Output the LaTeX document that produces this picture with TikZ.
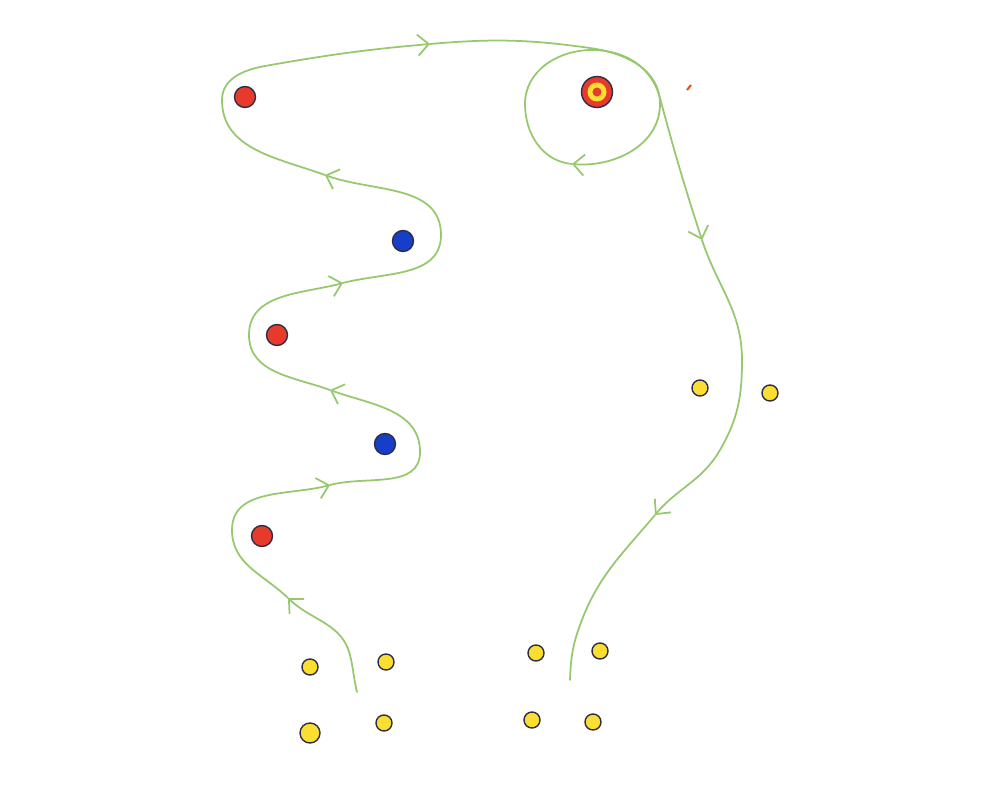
\documentclass[tikz,border=0pt]{standalone}
\usetikzlibrary{arrows.meta, positioning}
\definecolor{trailgreen}{RGB}{150,200,110}
\definecolor{beadred}{RGB}{232,58,44}
\definecolor{beadblue}{RGB}{22,62,200}
\definecolor{beadyellow}{RGB}{250,222,50}
\definecolor{rimgray}{RGB}{45,45,70}

\begin{document}
\begin{tikzpicture}[x=0.1mm, y=0.1mm,
			trail/.style = {
				draw=trailgreen, line width=0.5pt, line cap=round
			},
			barb/.style = {
				trail, -{Straight Barb[length=1.1mm, width=2.1mm]}
			},
			bead/.style = {
				circle, inner sep=0pt, draw=rimgray, line width=0.4pt
			},
			redbead/.style = {bead, fill=beadred, minimum size=2.1mm},
			bluebead/.style = {bead, fill=beadblue, minimum size=2.1mm},
			yellowbead/.style = {bead, fill=beadyellow, minimum size=1.6mm}]
			\useasboundingbox (0,0) rectangle (1000,804);
			% beads along the trail
			\node (r1) [redbead] at (245,707) {};
			\node (b1) [bluebead] at (403,563) {};
			\node (r2) [redbead] at (277,469) {};
			\node (b2) [bluebead] at (385,360) {};
			\node (r3) [redbead] at (262,268) {};
			\node (core) [bead, fill=beadred, minimum size=3.1mm] at (597,712) {};
			\node (coreRing) [circle, inner sep=0pt, fill=beadyellow, minimum size=1.9mm] at (core) {};
			\node (coreDot) [circle, inner sep=0pt, fill=beadred, minimum size=0.9mm] at (core) {};
			\draw [beadred!70!orange, line width=0.6pt] (687,714) -- (691,719);
			% yellow beads
			\node (y1) [yellowbead] at (700,416) {};
			\node (y2) [yellowbead] at (770,411) {};
			\node (y3) [yellowbead] at (310,137) {};
			\node (y4) [yellowbead] at (386,142) {};
			\node (y5) [yellowbead, minimum size=2mm] at (310,71) {};
			\node (y6) [yellowbead] at (384,81) {};
			\node (y7) [yellowbead] at (536,151) {};
			\node (y8) [yellowbead] at (600,153) {};
			\node (y9) [yellowbead] at (532,84) {};
			\node (y10) [yellowbead] at (593,82) {};
			% way points of the trail
			\coordinate (s) at (357,112);
			\coordinate (w1) at (350,149);
			\coordinate (a1) at (288,206);
			\coordinate (w2) at (232,274);
			\coordinate (a2) at (330,319);
			\coordinate (w3) at (420,352);
			\coordinate (a3) at (330,414);
			\coordinate (w4) at (249,469);
			\coordinate (a4) at (343,521);
			\coordinate (w5) at (441,569);
			\coordinate (a5) at (325,629);
			\coordinate (w6) at (222,704);
			\coordinate (w7) at (265,738);
			\coordinate (a6) at (430,760);
			\coordinate (w8) at (590,756);
			\coordinate (w9) at (660,700);
			\coordinate (a7) at (572,640);
			\coordinate (w10) at (525,700);
			\coordinate (w11) at (592,754);
			\coordinate (w12) at (660,706);
			\coordinate (a8) at (702,564);
			\coordinate (w13) at (742,444);
			\coordinate (w14) at (720,354);
			\coordinate (a9) at (655,289);
			\coordinate (w15) at (580,179);
			\coordinate (e) at (570,124);
			% the trail
			\draw [barb] (s) to[out=104, in=-76] (w1) to[out=104, in=-44] (a1);
			\draw [barb] (a1) to[out=136, in=-90] (w2) to[out=90, in=195] (a2);
			\draw [barb] (a2) to[out=15, in=-90] (w3) to[out=90, in=-20] (a3);
			\draw [barb] (a3) to[out=160, in=-90] (w4) to[out=90, in=195] (a4);
			\draw [barb] (a4) to[out=15, in=-90] (w5) to[out=90, in=-20] (a5);
			\draw [barb] (a5) to[out=160, in=-90] (w6) to[out=90, in=190] (w7)
				to[out=10, in=185] (a6);
			\draw [barb] (a6) to[out=5, in=172] (w8) to[out=-8, in=90] (w9)
				to[out=-90, in=-5] (a7);
			\draw [barb] (a7) to[out=175, in=-90] (w10) to[out=90, in=180] (w11)
				to[out=0, in=105] (w12) to[out=-75, in=108] (a8);
			\draw [barb] (a8) to[out=-72, in=90] (w13) to[out=-90, in=60] (w14)
				to[out=-120, in=50] (a9);
			\draw [trail] (a9) to[out=-130, in=70] (w15) to[out=-110, in=88] (e);
		\end{tikzpicture}
\end{document}
